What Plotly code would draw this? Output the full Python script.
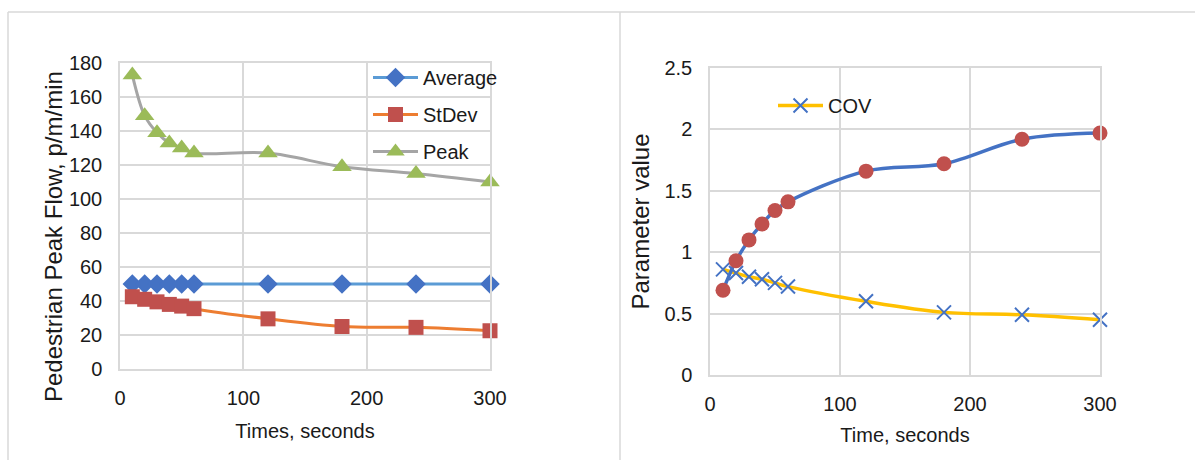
import plotly.graph_objects as go

W, H = 1195, 460

times = [10, 20, 30, 40, 50, 60, 120, 180, 240, 300]
average = [50, 50, 50, 50, 50, 50, 50, 50, 50, 50]
stdev = [42.5, 41, 39.5, 38, 37, 35.5, 29.5, 25, 24.5, 22.5]
peak = [173, 149, 139, 133, 130, 127, 127, 119, 115, 110]

cov = [0.86, 0.83, 0.80, 0.78, 0.75, 0.72, 0.60, 0.51, 0.49, 0.45]
param = [0.69, 0.93, 1.10, 1.23, 1.34, 1.41, 1.66, 1.72, 1.92, 1.97]

FONT = "Liberation Sans, Arial, sans-serif"
TXT = "#1a1a1a"
GRID = "#d9d9d9"
FS = 20

def px_x(p):
    return p / W

def px_y(p):
    return 1 - p / H

fig = go.Figure()

fig.add_trace(go.Scatter(x=times, y=average, name="Average", mode="lines+markers",
                         line=dict(color="#5B9BD5", width=3, shape="spline"),
                         marker=dict(symbol="diamond", size=15, color="#4472C4"),
                         cliponaxis=False,
                         legend="legend", legendgroup="a", xaxis="x", yaxis="y"))
fig.add_trace(go.Scatter(x=times, y=stdev, name="StDev", mode="lines+markers",
                         line=dict(color="#ED7D31", width=3, shape="spline"),
                         marker=dict(symbol="square", size=15, color="#C0504D"),
                         cliponaxis=False,
                         legend="legend", legendgroup="b", xaxis="x", yaxis="y"))
fig.add_trace(go.Scatter(x=times, y=peak, name="Peak", mode="lines+markers",
                         line=dict(color="#A5A5A5", width=3, shape="spline"),
                         marker=dict(symbol="triangle-up", size=17, color="#9BBB59"),
                         cliponaxis=False,
                         legend="legend", legendgroup="c", xaxis="x", yaxis="y"))

fig.add_trace(go.Scatter(x=times, y=cov, name="COV", mode="lines+markers",
                         line=dict(color="#FFC000", width=3.5, shape="spline"),
                         marker=dict(symbol="x-thin-open", size=14, color="#4472C4",
                                     line=dict(width=2, color="#4472C4")),
                         cliponaxis=False,
                         legend="legend2", xaxis="x2", yaxis="y2"))
fig.add_trace(go.Scatter(x=times, y=param, name="Parameter", mode="lines+markers",
                         line=dict(color="#4472C4", width=3.5, shape="spline"),
                         marker=dict(symbol="circle", size=15, color="#C0504D"),
                         cliponaxis=False,
                         showlegend=False, xaxis="x2", yaxis="y2"))

axis_common = dict(showgrid=True, gridcolor=GRID, gridwidth=1.5, showline=True,
                   linecolor=GRID, linewidth=1.5, mirror=True, zeroline=False,
                   ticks="", tickfont=dict(family=FONT, size=FS, color=TXT),
                   automargin=False)

fig.update_layout(
    width=W, height=H,
    margin=dict(l=0, r=0, t=0, b=0),
    paper_bgcolor="white", plot_bgcolor="white",
    font=dict(family=FONT, size=FS, color=TXT),
    xaxis=dict(domain=[px_x(120), px_x(490)], range=[0, 300], dtick=100,
               anchor="y", ticklabelstandoff=10,
               title=dict(text="Times, seconds", font=dict(family=FONT, size=FS, color=TXT), standoff=16),
               **axis_common),
    yaxis=dict(domain=[px_y(369), px_y(63)], range=[0, 180], dtick=20,
               anchor="x", ticklabelstandoff=12,
               **axis_common),
    xaxis2=dict(domain=[px_x(710), px_x(1100)], range=[0, 300], dtick=100,
                anchor="y2", ticklabelstandoff=10,
                title=dict(text="Time, seconds", font=dict(family=FONT, size=FS, color=TXT), standoff=14),
                **axis_common),
    yaxis2=dict(domain=[px_y(375), px_y(68)], range=[0, 2.5], dtick=0.5,
                anchor="x2", ticklabelstandoff=12,
                title=dict(text="Parameter value", font=dict(family=FONT, size=24, color=TXT), standoff=8),
                **axis_common),
    legend=dict(x=px_x(368), y=px_y(58), xanchor="left", yanchor="top",
                bgcolor="rgba(0,0,0,0)", itemwidth=45, tracegroupgap=8,
                traceorder="grouped",
                font=dict(family=FONT, size=FS, color=TXT)),
    legend2=dict(x=px_x(773), y=px_y(86), xanchor="left", yanchor="top",
                 bgcolor="rgba(0,0,0,0)", itemwidth=45,
                 font=dict(family=FONT, size=FS, color=TXT)),
    annotations=[
        dict(text="Pedestrian Peak Flow, p/m/min", xref="paper", yref="paper",
             x=px_x(53), y=px_y(237), xanchor="center", yanchor="middle",
             textangle=-90, showarrow=False,
             font=dict(family=FONT, size=24, color=TXT)),
    ],
    shapes=[
        dict(type="line", xref="paper", yref="paper", x0=px_x(8), x1=1, y0=px_y(12), y1=px_y(12),
             line=dict(color=GRID, width=1.5)),
        dict(type="line", xref="paper", yref="paper", x0=px_x(8), x1=px_x(8), y0=px_y(12), y1=0,
             line=dict(color=GRID, width=1.5)),
        dict(type="line", xref="paper", yref="paper", x0=px_x(620), x1=px_x(620), y0=px_y(12), y1=0,
             line=dict(color=GRID, width=1.5)),
    ],
)

fig.write_html("out.html")
